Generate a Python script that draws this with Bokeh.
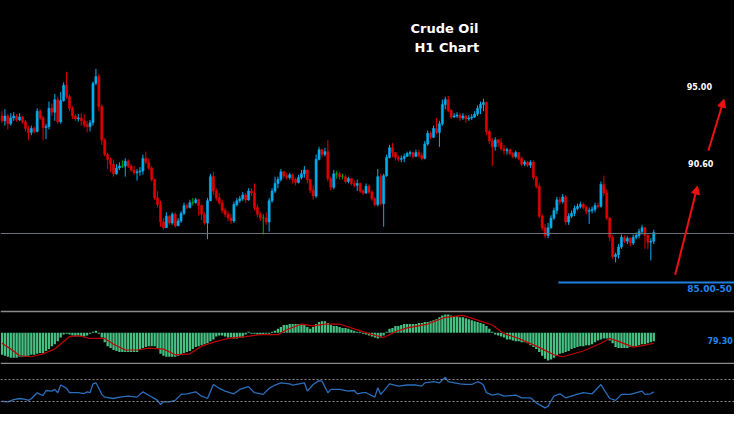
from bokeh.plotting import figure
from bokeh.layouts import column
from bokeh.models import Range1d, Span, Label, Arrow, NormalHead, ColumnDataSource
from bokeh.embed import file_html
from bokeh.resources import INLINE

# ---------------- data (H1 candles, oldest first) ----------------
opens = [
    94.00,93.75,94.00,93.60,93.90,94.00,93.80,93.95,93.70,93.35,
    93.15,93.35,93.20,94.25,93.90,93.40,93.45,94.40,94.20,94.85,
    93.70,94.80,95.60,95.00,94.40,94.00,93.85,93.90,93.75,93.55,
    93.45,93.65,95.70,96.05,94.50,92.75,92.00,91.75,91.50,91.00,
    91.30,91.40,91.40,91.65,91.40,91.20,91.05,91.10,91.15,91.80,
    91.60,91.30,90.70,89.75,89.40,88.50,88.20,88.80,88.45,88.90,
    88.30,88.55,88.95,89.35,89.25,89.50,89.50,89.65,89.35,88.90,
    88.45,89.60,90.85,90.10,89.75,89.50,89.10,88.90,88.70,88.55,
    89.40,89.60,89.70,89.90,89.65,90.10,90.00,89.25,88.90,88.70,
    88.70,88.50,89.60,90.10,90.50,90.70,91.10,90.90,90.80,90.95,
    90.70,90.55,90.80,91.00,91.20,90.70,90.15,89.85,91.75,92.25,
    92.00,92.15,90.75,90.30,91.00,91.00,90.85,90.85,90.60,90.75,
    90.50,90.40,90.50,90.10,90.00,90.35,90.05,89.70,89.40,90.85,
    89.45,90.90,91.85,92.35,92.10,91.85,91.75,91.80,91.90,92.05,
    92.10,91.90,92.10,91.95,91.80,92.55,93.10,92.90,93.35,93.15,
    93.60,94.60,94.85,94.30,93.95,94.00,94.05,93.90,94.00,93.85,
    93.90,93.95,94.10,94.40,94.60,94.70,93.20,92.70,92.40,92.75,
    92.60,92.30,92.20,92.25,92.05,91.90,92.10,91.80,91.50,91.60,
    91.45,91.60,90.80,90.35,88.80,88.20,87.80,88.20,88.70,89.10,
    89.65,89.55,89.80,88.50,88.80,88.95,89.20,89.30,89.40,89.25,
    89.05,89.10,89.15,89.35,89.30,90.45,90.00,88.70,87.70,86.70,
    86.80,87.20,87.70,87.50,87.65,87.40,87.70,87.80,88.00,88.20,
    87.80,87.45,87.50]

highs = [
    94.25,94.35,94.10,94.15,94.20,94.10,94.15,94.00,93.80,93.50,
    93.50,93.45,94.40,94.35,94.00,93.60,94.75,94.65,95.15,95.00,
    95.25,95.75,96.30,95.10,94.50,94.10,94.10,94.15,94.10,93.75,
    93.80,95.80,96.45,96.20,94.60,92.85,92.10,91.85,91.75,91.50,
    91.60,91.70,91.80,91.75,91.50,91.40,91.25,91.35,92.00,92.15,
    91.80,91.40,90.75,90.10,89.60,88.70,89.00,88.85,89.00,89.00,
    88.70,89.05,89.50,89.45,89.65,89.75,89.75,89.70,89.40,89.00,
    89.75,91.00,91.10,90.25,90.00,89.65,89.25,89.05,88.90,89.55,
    89.75,89.85,90.05,90.00,90.25,90.25,90.50,89.40,89.00,88.90,
    89.00,89.75,90.25,90.85,90.85,91.25,91.15,91.05,91.05,91.00,
    90.80,90.95,91.20,91.40,91.20,90.70,90.40,92.00,92.40,92.30,
    92.35,92.75,90.85,91.20,91.15,91.10,91.00,90.95,90.85,90.75,
    90.65,90.70,90.55,90.20,90.50,90.45,90.15,89.80,91.25,91.00,
    91.00,92.00,92.50,92.60,92.10,91.95,91.95,92.05,92.15,92.20,
    92.15,92.25,92.25,92.10,92.70,93.25,93.20,93.50,93.90,93.75,
    94.85,95.00,95.05,94.35,94.15,94.20,94.15,94.15,94.05,94.05,
    94.10,94.25,94.55,94.75,94.90,94.75,93.30,92.85,92.90,92.80,
    92.85,92.50,92.35,92.30,92.15,92.20,92.10,91.90,91.70,91.65,
    91.70,91.70,90.90,90.50,88.90,88.40,88.45,88.85,89.25,89.80,
    89.80,89.95,89.90,88.95,89.10,89.35,89.45,89.55,89.50,89.35,
    89.25,89.30,89.50,89.50,90.60,90.90,90.20,88.75,87.80,86.90,
    87.35,87.85,87.80,87.75,87.70,87.85,87.95,88.15,88.35,88.25,
    87.90,87.65,88.10]

lows = [
    93.65,93.50,93.30,93.50,93.75,93.70,93.75,93.60,93.20,92.75,
    93.00,93.10,93.15,93.80,92.75,92.80,93.30,94.00,93.75,93.60,
    93.60,94.75,94.90,94.25,93.85,93.75,93.70,93.50,93.40,93.15,
    93.20,93.50,95.60,94.25,92.50,91.90,91.25,91.10,90.85,90.95,
    91.20,91.30,90.85,91.30,91.10,90.95,90.65,90.90,90.95,91.50,
    91.20,90.60,89.65,89.25,88.25,88.10,88.20,88.35,88.35,88.20,
    88.30,88.45,88.85,89.15,89.20,89.35,89.45,88.85,88.60,88.35,
    87.60,89.60,89.90,89.60,89.40,88.95,88.75,88.55,88.40,88.45,
    89.30,89.50,89.60,89.50,89.60,89.85,89.10,88.75,88.55,87.85,
    88.35,88.00,89.50,90.00,90.25,90.60,90.75,90.70,90.70,90.50,
    90.40,90.50,90.70,90.80,90.50,90.00,89.65,89.75,91.70,91.85,
    91.90,90.60,90.15,90.20,90.75,90.70,90.70,90.50,90.50,90.40,
    90.30,90.10,90.00,89.90,89.95,89.95,89.60,89.30,89.30,89.35,
    88.25,90.85,91.80,91.85,91.70,91.65,91.60,91.60,91.90,91.90,
    91.80,91.90,91.85,91.70,91.75,92.45,92.80,92.85,93.05,92.40,
    93.50,94.35,94.20,93.85,93.90,93.90,93.75,93.80,93.65,93.75,
    93.80,93.90,94.00,94.10,94.25,93.00,92.55,91.40,92.20,92.40,
    92.20,92.00,92.00,91.95,91.80,91.80,91.70,91.40,91.40,91.35,
    91.30,90.70,90.25,88.70,88.05,87.65,87.65,88.15,88.60,88.90,
    89.40,89.45,88.35,88.35,88.70,88.80,89.10,89.20,89.15,88.90,
    88.40,88.95,89.00,89.20,89.25,89.85,88.60,87.50,86.60,86.40,
    86.60,87.10,87.40,87.35,87.25,87.30,87.60,87.65,87.85,87.10,
    87.10,86.50,87.35]

closes = [
    93.75,94.00,93.60,93.90,94.00,93.80,93.95,93.70,93.35,93.15,
    93.35,93.20,94.25,93.90,93.40,93.45,94.40,94.20,94.85,93.70,
    94.80,95.60,95.00,94.40,94.00,93.85,93.90,93.75,93.55,93.45,
    93.65,95.70,96.05,94.50,92.75,92.00,91.75,91.50,91.00,91.30,
    91.40,91.40,91.65,91.40,91.20,91.05,91.10,91.15,91.80,91.60,
    91.30,90.70,89.75,89.40,88.50,88.20,88.80,88.45,88.90,88.30,
    88.55,88.95,89.35,89.25,89.50,89.50,89.65,89.35,88.90,88.45,
    89.60,90.85,90.10,89.75,89.50,89.10,88.90,88.70,88.55,89.40,
    89.60,89.70,89.90,89.65,90.10,90.00,89.25,88.90,88.70,88.70,
    88.50,89.60,90.10,90.50,90.70,91.10,90.90,90.80,90.95,90.70,
    90.55,90.80,91.00,91.20,90.70,90.15,89.85,91.75,92.25,92.00,
    92.15,90.75,90.30,91.00,91.00,90.85,90.85,90.60,90.75,90.50,
    90.40,90.50,90.10,90.00,90.35,90.05,89.70,89.40,90.85,89.45,
    90.90,91.85,92.35,92.10,91.85,91.75,91.80,91.90,92.05,92.10,
    91.90,92.10,91.95,91.80,92.55,93.10,92.90,93.35,93.15,93.60,
    94.60,94.85,94.30,93.95,94.00,94.05,93.90,94.00,93.85,93.90,
    93.95,94.10,94.40,94.60,94.70,93.20,92.70,92.40,92.75,92.60,
    92.30,92.20,92.25,92.05,91.90,92.10,91.80,91.50,91.60,91.45,
    91.60,90.80,90.35,88.80,88.20,87.80,88.20,88.70,89.10,89.65,
    89.55,89.80,88.50,88.80,88.95,89.20,89.30,89.40,89.25,89.05,
    89.10,89.15,89.35,89.30,90.45,90.00,88.70,87.70,86.70,86.80,
    87.20,87.70,87.50,87.65,87.40,87.70,87.80,88.00,88.20,87.80,
    87.45,87.50,87.95]

# MACD histogram (one bar per candle) and its signal line
macd_hist = [
    -0.23,-0.24,-0.25,-0.26,-0.26,-0.26,-0.25,-0.25,-0.25,-0.24,-0.23,-0.23,
    -0.22,-0.21,-0.21,-0.19,-0.17,-0.14,-0.12,-0.09,-0.05,-0.02,-0.01,-0.02,
    -0.03,-0.04,-0.04,-0.04,-0.04,-0.03,-0.01,0.01,0.02,-0.01,-0.05,-0.10,
    -0.14,-0.16,-0.18,-0.19,-0.20,-0.20,-0.20,-0.20,-0.20,-0.20,-0.20,-0.18,
    -0.16,-0.15,-0.14,-0.14,-0.14,-0.17,-0.22,-0.24,-0.25,-0.25,-0.25,-0.25,
    -0.24,-0.23,-0.21,-0.20,-0.19,-0.17,-0.15,-0.14,-0.13,-0.12,-0.11,-0.09,
    -0.07,-0.04,-0.03,-0.03,-0.04,-0.05,-0.05,-0.06,-0.06,-0.05,-0.05,-0.02,
    0.01,-0.01,-0.01,-0.02,-0.02,-0.02,-0.01,-0.01,0.01,0.02,0.04,0.06,
    0.08,0.08,0.09,0.09,0.09,0.09,0.08,0.08,0.06,0.04,0.06,0.09,
    0.11,0.12,0.12,0.10,0.08,0.07,0.07,0.06,0.05,0.05,0.04,0.03,
    0.02,0.01,0.01,-0.01,-0.02,-0.03,-0.04,-0.05,-0.06,-0.05,-0.03,0.01,
    0.04,0.05,0.07,0.07,0.08,0.09,0.09,0.09,0.09,0.09,0.10,0.10,
    0.11,0.11,0.12,0.13,0.14,0.16,0.18,0.19,0.19,0.18,0.17,0.17,
    0.16,0.16,0.15,0.14,0.13,0.12,0.11,0.10,0.09,0.07,0.04,0.01,
    -0.02,-0.03,-0.04,-0.05,-0.07,-0.07,-0.08,-0.09,-0.09,-0.10,-0.10,-0.11,
    -0.13,-0.15,-0.17,-0.20,-0.24,-0.27,-0.29,-0.28,-0.26,-0.24,-0.22,-0.21,
    -0.20,-0.19,-0.17,-0.16,-0.15,-0.14,-0.14,-0.13,-0.13,-0.12,-0.10,-0.08,
    -0.07,-0.06,-0.06,-0.08,-0.11,-0.15,-0.16,-0.16,-0.16,-0.16,-0.15,-0.14,
    -0.14,-0.13,-0.12,-0.12,-0.11,-0.10,-0.09]

signal_bar = [0,3,6,10,14,18,23,26,30,35,38,42,46,50,55,59,64,68,73,77,
              83,88,94,97,102,106,110,115,120,125,130,134,138,145,151,157,162,167,171,176,
              182,188,191,198,204,207,210,215,219,222]
signal_val = [-0.11,-0.17,-0.24,-0.25,-0.22,-0.17,-0.04,-0.03,-0.06,-0.06,
              -0.12,-0.18,-0.18,-0.16,-0.17,-0.23,-0.22,-0.14,-0.09,-0.06,
              -0.04,-0.02,-0.02,0.03,0.09,0.07,0.09,0.09,0.04,-0.01,
              -0.05,0.01,0.05,0.09,0.16,0.18,0.13,0.08,-0.01,-0.06,
              -0.14,-0.23,-0.25,-0.19,-0.11,-0.06,-0.09,-0.15,-0.13,-0.11]

# RSI
rsi_bar = [0,2,4,6,8,9,10,12,13,14,
           15,17,18,19,20,22,23,26,28,29,
           30,31,32,33,34,35,38,40,43,46,
           48,50,53,54,55,57,59,61,63,66,
           68,70,72,74,76,79,81,84,86,89,
           91,93,95,98,99,103,104,106,108,109,
           111,112,115,118,120,121,123,124,127,128,
           129,130,132,135,138,141,143,144,147,149,
           151,152,156,158,160,162,163,164,165,167,
           169,171,175,177,180,182,185,186,188,190,
           192,195,198,201,204,205,207,209,211,214,
           218,219,221,222]
rsi_val = [30.5,29.5,33.6,35.5,34,32,35,46,43,41,
           50,49,52,46,60,54,46,46,44.5,47.6,
           46,62,64,54,43,38,35.5,38,39.7,38,
           47.6,41.5,32,24.5,29.4,29.4,32,43,44,47.6,
           39.7,35.5,61,54,49,44,52,57,46,43,
           54,60,64,62,60,64,49,61,68,67,
           46,52,52,49,50,44,46,46,38,55,
           43,49,62,58,60,60,58,64,66,64,
           74,66,62,61,61,66,64,60,46,41.5,
           44,39.7,41.5,36.7,36.7,27.6,18.5,21.5,40,44,
           36.7,41.5,46,44,61,52,35.5,32,43,43,
           49,43,44,47.6]
rsi_levels = [70, 30]

# chart annotations
support_level = 87.90
zone_level = 85.35
zone_start_bar = 189.5
macd_last_text = "79.30"
arrow_x0 = [229.3, 240.6]
arrow_y0 = [85.75, 92.20]
arrow_x1 = [236.9, 245.9]
arrow_y1 = [90.37, 94.87]

# ---------------- styling ----------------
UP, DOWN, DOJI = "#00AEEF", "#E00000", "#00A800"
FONT = "DejaVu Sans"
W = 734

n = len(closes)
bars = list(range(n))
colors = [UP if c > o else (DOWN if c < o else DOJI) for o, c in zip(opens, closes)]
src = ColumnDataSource(dict(
    x=bars, high=highs, low=lows,
    top=[max(o, c) for o, c in zip(opens, closes)],
    bottom=[min(o, c) for o, c in zip(opens, closes)],
    color=colors))

xr = Range1d(-0.5, 249.5)


def panel(height, yr, **kw):
    f = figure(width=W, height=height, x_range=xr, y_range=yr,
               output_backend="svg", toolbar_location=None,
               x_axis_location=None, y_axis_location=None,
               background_fill_color="black", border_fill_color="black",
               outline_line_color=None, **kw)
    for g in f.grid:
        g.visible = False
    return f


# ---- main price panel ----
p = panel(310, Range1d(83.9, 100.0), min_border=0)
p.add_layout(Span(location=support_level, dimension="width",
                  line_color="#6d737d", line_width=1))
p.segment(x0=zone_start_bar, y0=zone_level, x1=249.5, y1=zone_level,
          line_color="#1f80e0", line_width=2)
p.segment("x", "high", "x", "low", source=src, line_color="color", line_width=1)
p.vbar(x="x", top="top", bottom="bottom", width=0.7, source=src,
       fill_color="color", line_color="color", line_width=0.6)

for x0, y0, x1, y1 in zip(arrow_x0, arrow_y0, arrow_x1, arrow_y1):
    p.add_layout(Arrow(x_start=x0, y_start=y0, x_end=x1, y_end=y1,
                       line_color="#EE1111", line_width=2,
                       end=NormalHead(size=8, fill_color="#EE1111",
                                      line_color="#EE1111", line_width=1)))

p.add_layout(Label(x=150.7, y=98.15, text="Crude Oil", text_align="center",
                   text_color="white", text_font=FONT, text_font_style="bold",
                   text_font_size="13px"))
p.add_layout(Label(x=151.5, y=97.15, text="H1 Chart", text_align="center",
                   text_color="white", text_font=FONT, text_font_style="bold",
                   text_font_size="13px"))
p.add_layout(Label(x=233.2, y=95.35, text="95.00", text_color="white",
                   text_font=FONT, text_font_style="bold", text_font_size="8px"))
p.add_layout(Label(x=233.7, y=91.33, text="90.60", text_color="white",
                   text_font=FONT, text_font_style="bold", text_font_size="8px"))
p.add_layout(Label(x=233.4, y=84.85, text="85.00-50", text_color="#1e88f0",
                   text_font=FONT, text_font_style="bold", text_font_size="9px"))

# ---- MACD panel ----
m = panel(54, Range1d(-0.31, 0.21), min_border_left=0, min_border_right=0,
          min_border_top=2, min_border_bottom=2)
m.border_fill_color = "#8a8a8a"
m.vbar(x=bars, top=macd_hist, bottom=0, width=0.78,
       fill_color="#46C083", line_color=None)
m.line(signal_bar, signal_val, line_color="#C00000", line_width=1.2)
m.add_layout(Label(x=240.3, y=-0.113, text=macd_last_text, text_color="#1e88f0",
                   text_font=FONT, text_font_style="bold", text_font_size="8px"))

# ---- RSI panel ----
r = panel(50, Range1d(6.4, 97.3), min_border=0)
for lv in rsi_levels:
    r.add_layout(Span(location=lv, dimension="width", line_color="#8f8f8f",
                      line_width=1, line_dash="2 2"))
r.line(rsi_bar, rsi_val, line_color="#2a6ebb", line_width=1.3)

layout = column(p, m, r, spacing=0)
layout.styles = {"background-color": "black"}

open("out.html", "w").write(file_html(layout, INLINE))
